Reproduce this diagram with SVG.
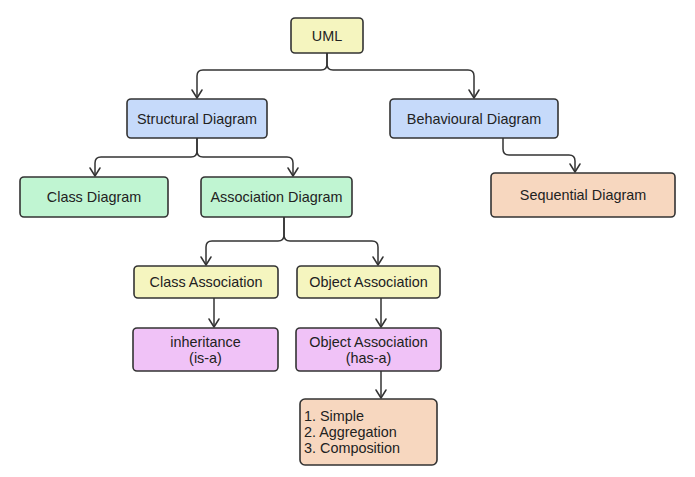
<svg xmlns="http://www.w3.org/2000/svg" width="695" height="477" viewBox="0 0 695 477">
<defs>
<marker id="arr" markerUnits="userSpaceOnUse" markerWidth="14" markerHeight="14" viewBox="-10 -7 12 14" refX="0" refY="0" orient="auto">
<path d="M-8,-5 L0,0 L-8,5" fill="none" stroke="#333" stroke-width="1.5" stroke-linecap="round" stroke-linejoin="round"/>
</marker>
</defs>
<style>
rect{stroke:#333;stroke-width:1.6}
.y{fill:#f5f5bf}.b{fill:#c6dafa}.g{fill:#c0f5d2}.o{fill:#f7d7bf}.p{fill:#f0c2f7}
text{font-family:"Liberation Sans",Arial,sans-serif;font-size:14.4px;fill:#222;text-anchor:middle}
.l{text-anchor:start}
#connectors path{fill:none;stroke:#333;stroke-width:1.5;marker-end:url(#arr)}
</style>
<rect width="695" height="477" fill="#fff" style="stroke:none"/>
<g id="connectors">
<path d="M327,53 V64 Q327,70 321,70 H203 Q197,70 197,76 V98"/>
<path d="M327,53 V64 Q327,70 333,70 H468 Q474,70 474,76 V98"/>
<path d="M197,138 V151 Q197,157 191,157 H101 Q95,157 95,163 V176"/>
<path d="M197,138 V151 Q197,157 203,157 H287 Q293,157 293,163 V176"/>
<path d="M503,138 V149 Q503,155 509,155 H569 Q575,155 575,161 V172"/>
<path d="M284,217 V235 Q284,241 278,241 H212 Q206,241 206,247 V265"/>
<path d="M284,217 V235 Q284,241 290,241 H372 Q378,241 378,247 V265"/>
<path d="M214,298 V327"/>
<path d="M381,298 V327"/>
<path d="M381,371 V398"/>
</g>
<g id="uml"><rect class="y" x="291" y="18" width="72" height="35" rx="4"/><text x="327" y="41">UML</text></g>
<g id="structural"><rect class="b" x="127" y="99" width="140" height="39" rx="4"/><text x="197" y="124">Structural Diagram</text></g>
<g id="behavioural"><rect class="b" x="390" y="99" width="168" height="39" rx="4"/><text x="474" y="124">Behavioural Diagram</text></g>
<g id="class-diagram"><rect class="g" x="20" y="177" width="148" height="40" rx="4"/><text x="94" y="202">Class Diagram</text></g>
<g id="association-diagram"><rect class="g" x="201" y="177" width="151" height="40" rx="4"/><text x="276.5" y="202">Association Diagram</text></g>
<g id="sequential"><rect class="o" x="491" y="173" width="184" height="44" rx="4"/><text x="583" y="200">Sequential Diagram</text></g>
<g id="class-association"><rect class="y" x="134" y="266" width="144" height="32" rx="4"/><text x="206" y="287">Class Association</text></g>
<g id="object-association"><rect class="y" x="297" y="266" width="143" height="32" rx="4"/><text x="368.5" y="287">Object Association</text></g>
<g id="inheritance"><rect class="p" x="133" y="328" width="145" height="43" rx="4"/><text x="205.5" y="347">inheritance</text><text x="205.5" y="363">(is-a)</text></g>
<g id="has-a"><rect class="p" x="296" y="328" width="145" height="43" rx="4"/><text x="368.5" y="347">Object Association</text><text x="368.5" y="363">(has-a)</text></g>
<g id="list"><rect class="o" x="300" y="399" width="137" height="66" rx="5"/><text class="l" x="304" y="421">1. Simple</text><text class="l" x="304" y="437">2. Aggregation</text><text class="l" x="304" y="453">3. Composition</text></g>
</svg>
